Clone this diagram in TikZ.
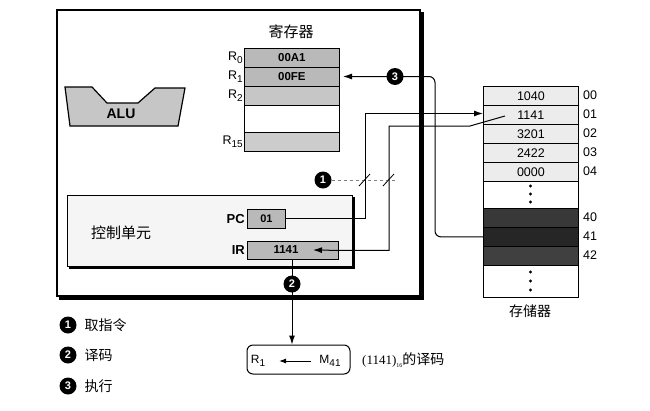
\documentclass[tikz,border=0pt]{standalone}
\usepackage{fontspec}
\setmainfont{Liberation Sans}
\newfontfamily\cjk{Noto Sans CJK SC}
\newfontfamily\serifnum{Liberation Serif}
\usetikzlibrary{arrows.meta}
\newcommand\lowidx[1]{\raisebox{-0.45ex}{\fontsize{10}{11}\selectfont #1}}
\begin{document}
\begin{tikzpicture}[x=1pt,y=-1pt,
  cell/.style={draw, line width=0.8pt, minimum width=95pt, inner sep=0pt, anchor=north west},
  regtxt/.style={font=\bfseries\fontsize{11.5}{12}\selectfont},
  memtxt/.style={font=\fontsize{12.5}{13}\selectfont},
  lbl/.style={anchor=east, inner sep=1pt, font=\fontsize{12.5}{13}\selectfont},
  addr/.style={anchor=west, inner sep=1pt, font=\fontsize{12.5}{13}\selectfont},
  stepnum/.style={circle, fill=black, text=white, inner sep=0pt, minimum size=17pt, font=\bfseries\fontsize{11}{12}\selectfont},
  conn/.style={line width=1pt},
  arr/.style={line width=1pt, -{Latex[length=9pt,width=6pt]}},
  zh/.style={font=\cjk\fontsize{14}{16}\selectfont}
]
\useasboundingbox (0,0) rectangle (650,410);

% CPU outer box with shadow
\draw[line width=3pt] (59,298) -- (422,298) -- (422,12);
\draw[line width=1.4pt] (57,10) rectangle (420,296);

% Register file
\node[zh, font=\cjk\fontsize{15}{17}\selectfont] (regtitle) at (291,32) {寄存器};
\node[cell, fill=gray!55, minimum height=19pt, regtxt] (r0) at (244,48) {00A1};
\node[cell, fill=gray!55, minimum height=19pt, regtxt] (r1) at (244,67) {00FE};
\node[cell, fill=gray!45, minimum height=19pt] (r2) at (244,86) {};
\node[cell, fill=white, minimum height=27pt] (rgap) at (244,105) {};
\node[cell, fill=gray!40, minimum height=19pt] (r15) at (244,132) {};
\node[lbl] (lr0) at (r0.west) {R\lowidx{0}};
\node[lbl] (lr1) at (r1.west) {R\lowidx{1}};
\node[lbl] (lr2) at (r2.west) {R\lowidx{2}};
\node[lbl] (lr15) at (r15.west) {R\lowidx{15}};

% ALU
\draw[line width=1.2pt, fill=gray!45] (65,87) -- (92,87) -- (107,103) -- (138,103) -- (155,88) -- (185,88) -- (178,126) -- (70,126) -- cycle;
\node[font=\bfseries\fontsize{14}{15}\selectfont] (alu) at (121,114) {ALU};

% Control unit
\draw[line width=2.5pt] (69,268) -- (354,268) -- (354,197);
\draw[line width=0.9pt, fill=gray!8] (67,195) rectangle (352,266);
\node[font=\cjk\fontsize{15}{17}\selectfont] (cu) at (121,233) {控制单元};
\node[cell, fill=gray!55, minimum width=38pt, minimum height=19pt, font=\bfseries\fontsize{11}{12}\selectfont] (pc) at (247,209) {01};
\node[cell, fill=gray!55, minimum width=91pt, minimum height=18pt] (ir) at (247,241) {};
\node[regtxt] (irtxt) at (286,250) {1141};
\node[anchor=east, inner sep=2pt, font=\bfseries\fontsize{13}{14}\selectfont] (pclbl) at (pc.west) {PC};
\node[anchor=east, inner sep=2pt, font=\bfseries\fontsize{13}{14}\selectfont] (irlbl) at (ir.west) {IR};

% Memory
\node[cell, fill=gray!15, minimum height=19pt, memtxt] (m00) at (483,86) {1040};
\node[cell, fill=gray!15, minimum height=19pt, memtxt] (m01) at (483,105) {1141};
\node[cell, fill=gray!15, minimum height=19pt, memtxt] (m02) at (483,124) {3201};
\node[cell, fill=gray!15, minimum height=19pt, memtxt] (m03) at (483,143) {2422};
\node[cell, fill=gray!15, minimum height=19pt, memtxt] (m04) at (483,162) {0000};
\node[cell, fill=white, minimum height=27pt] (mgap1) at (483,181) {};
\node[cell, fill=black!78, minimum height=19pt] (m40) at (483,208) {};
\node[cell, fill=black!85, minimum height=19pt] (m41) at (483,227) {};
\node[cell, fill=black!75, minimum height=19pt] (m42) at (483,246) {};
\node[cell, fill=white, minimum height=32pt] (mgap2) at (483,265) {};
\foreach \yy in {186,194,202} \fill (530.5,\yy) circle (1.6pt);
\foreach \yy in {272,281,290} \fill (530.5,\yy) circle (1.6pt);
\node[addr] (a00) at (582,95.5) {00};
\node[addr] (a01) at (582,114.5) {01};
\node[addr] (a02) at (582,133.5) {02};
\node[addr] (a03) at (582,152.5) {03};
\node[addr] (a04) at (582,171.5) {04};
\node[addr] (a40) at (582,217.5) {40};
\node[addr] (a41) at (582,236.5) {41};
\node[addr] (a42) at (582,255.5) {42};
\node[zh] (memtitle) at (530,311) {存储器};

% Connector 1: PC -> memory 01
\coordinate (c1) at (365,113.5);
\draw[arr] (pc.east) -| (c1) -- (m01.west |- c1);

% Connector 2: memory 01 -> IR
\coordinate (m01in) at (505,116);
\coordinate (m01out) at (470,126);
\coordinate (c2) at (389,126);
\coordinate (irin) at (313,250);
\draw[conn] (m01in) -- (m01out) -- (c2) |- (ir.east);
\draw[arr] (ir.east) -- (irin);

% Connector 3: memory 41 -> R1
\coordinate (c3) at (435,76.5);
\coordinate (r1tip) at (343,76.5);
\draw[arr, rounded corners=6pt] (m41.west) -| (c3) -- (r1tip);
\node[stepnum] (s3) at (395,76.5) {3};

% Step 1 dashed indicator
\node[stepnum] (s1) at (323,180) {1};
\coordinate (d1) at (395,180);
\draw[dashed, gray, line width=0.8pt] (s1.east) -- (d1);
\draw[line width=0.8pt] (359,186) -- (370,174);
\draw[line width=0.8pt] (383,186) -- (394,174);

% Step 2: IR -> decode
\node[draw, rounded corners=6pt, line width=1pt, minimum width=103pt, minimum height=29pt, inner sep=0pt] (dec) at (298.5,359.5) {};
\coordinate (irbot) at (292,259);
\draw[arr] (irbot) -- (dec.north -| irbot);
\node[stepnum] (s2) at (292,284) {2};
\node[font=\fontsize{12}{13}\selectfont, inner sep=1pt] (decR) at (258,361) {R\lowidx{1}};
\node[font=\fontsize{12}{13}\selectfont, inner sep=1pt] (decM) at (330,361) {M\lowidx{41}};
\coordinate (dectail) at (311,361);
\coordinate (dectip) at (279,361);
\draw[line width=1pt, -{Latex[length=7pt,width=5pt]}] (dectail) -- (dectip);
\node[anchor=west, inner sep=0pt] (dectxt) at (362,360) {\serifnum\fontsize{13}{14}\selectfont (1141)\raisebox{-0.5ex}{\fontsize{6}{7}\selectfont 16}\cjk\fontsize{14}{16}\selectfont 的译码};

% Legend
\node[stepnum] (l1) at (68,325) {1};
\node[zh, anchor=west] (l1t) at (81,325) {取指令};
\node[stepnum] (l2) at (68,355) {2};
\node[zh, anchor=west] (l2t) at (81,355) {译码};
\node[stepnum] (l3) at (68,386) {3};
\node[zh, anchor=west] (l3t) at (81,386) {执行};
\end{tikzpicture}
\end{document}
